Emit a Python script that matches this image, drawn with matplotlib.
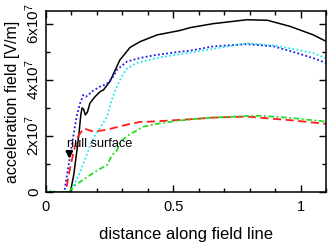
import matplotlib
matplotlib.use("Agg")
import matplotlib.pyplot as plt
from matplotlib.ticker import MultipleLocator, FixedLocator, FixedFormatter

plt.rcParams['font.family'] = ['Liberation Sans', 'DejaVu Sans']
plt.rcParams['mathtext.fontset'] = 'custom'
plt.rcParams['mathtext.rm'] = 'Liberation Sans'
plt.rcParams['mathtext.it'] = 'Liberation Sans'

SCALE = 1e7

black_x = [0, 0.08, 0.096, 0.109, 0.122, 0.13, 0.137, 0.142, 0.148, 0.155, 0.163, 0.173, 0.193,
           0.213, 0.226, 0.252, 0.29, 0.33, 0.37, 0.437, 0.528, 0.567, 0.657, 0.79,
           0.87, 0.96, 1.05, 1.1]
black_y = [0, 0, 0, 0.6, 1.5, 2.1, 2.75, 3.0, 2.95, 2.75, 2.85, 3.17, 3.4,
           3.58, 3.64, 3.95, 4.7, 5.15, 5.36, 5.6, 5.76, 5.86, 6.0, 6.14,
           6.12, 5.9, 5.6, 5.37]

blue_x = [0, 0.072, 0.089, 0.102, 0.115, 0.122, 0.134, 0.147, 0.157, 0.167, 0.18, 0.213,
          0.239, 0.265, 0.278, 0.318, 0.37, 0.436, 0.528, 0.567, 0.657, 0.79, 0.895,
          0.987, 1.05, 1.1]
blue_y = [0, 0, 0.96, 1.68, 2.39, 2.75, 3.16, 3.46, 3.4, 3.46, 3.58, 3.76,
          3.85, 4.12, 4.35, 4.65, 4.78, 4.89, 5.0, 5.04, 5.19, 5.27, 5.19,
          4.95, 4.77, 4.6]

cyan_x = [0, 0.015, 0.022, 0.03, 0.096, 0.129, 0.155, 0.174, 0.194, 0.207, 0.22, 0.24,
          0.259, 0.278, 0.3, 0.318, 0.357, 0.436, 0.567, 0.79, 0.9, 0.987, 1.05, 1.1]
cyan_y = [0, 0, 0.08, 0, 0, 0.6, 1.2, 1.68, 2.04, 2.21, 2.39, 2.69,
          3.3, 3.75, 4.15, 4.4, 4.6, 4.78, 4.97, 5.3, 5.22, 5.07, 4.95, 4.77]

red_x = [0, 0.078, 0.089, 0.109, 0.122, 0.135, 0.148, 0.168, 0.188, 0.207, 0.233, 0.273,
         0.326, 0.371, 0.41, 0.488, 0.593, 0.646, 0.79, 0.842, 0.92, 0.974, 1.1]
red_y = [0, 0, 0.6, 1.44, 1.93, 2.1, 2.27, 2.21, 2.15, 2.18, 2.21, 2.3,
         2.42, 2.5, 2.51, 2.55, 2.61, 2.65, 2.69, 2.65, 2.59, 2.55, 2.43]

green_x = [0, 0.015, 0.022, 0.03, 0.089, 0.115, 0.155, 0.194, 0.227, 0.24, 0.26, 0.28,
           0.293, 0.326, 0.383, 0.436, 0.515, 0.593, 0.646, 0.79, 0.842, 0.92, 0.974, 1.1]
green_y = [0, 0, 0.08, 0, 0, 0.25, 0.49, 0.73, 0.9, 0.96, 1.32, 1.5,
           1.8, 2.04, 2.33, 2.43, 2.54, 2.61, 2.65, 2.71, 2.72, 2.67, 2.63, 2.51]

ytick_vals = [0, 2, 4, 6]
ytick_labels = ['0', '2x10$^7$', '4x10$^7$', '6x10$^7$']
xtick_vals = [0, 0.5, 1.0]
xtick_labels = ['0', '0.5', '1']

fig = plt.figure(figsize=(3.28, 2.45), dpi=100)
ax = fig.add_axes([0.140, 0.216, 0.854, 0.739])

def s(v):
    return [q * SCALE for q in v]

ax.plot(black_x, s(black_y), color='black', lw=1.1, ls='-')
ax.plot(blue_x, s(blue_y), color='#1a1aee', lw=1.3, ls=(0, (1, 1.3)))
ax.plot(cyan_x, s(cyan_y), color='#22e8ee', lw=1.3, ls=(0, (1, 1.3)))
ax.plot(red_x, s(red_y), color='#ff1a1a', lw=1.3, ls=(0, (4.5, 2.5)))
ax.plot(green_x, s(green_y), color='#22dd22', lw=1.3, ls=(0, (3, 1.5, 1, 1.5)))

ax.annotate('', xy=(0.092, 1.08 * SCALE), xytext=(0.092, 1.5 * SCALE),
            arrowprops=dict(arrowstyle='-|>', color='black', lw=1.8, mutation_scale=9))
ax.text(0.083, 1.70 * SCALE, 'null surface', fontsize=9.2, va='center', ha='left')

ax.set_xlim(0, 1.1)
ax.set_ylim(0, 6.45 * SCALE)

ax.xaxis.set_major_locator(FixedLocator(xtick_vals))
ax.xaxis.set_major_formatter(FixedFormatter(xtick_labels))
ax.xaxis.set_minor_locator(MultipleLocator(0.1))
ax.yaxis.set_major_locator(FixedLocator(s(ytick_vals)))
ax.yaxis.set_major_formatter(FixedFormatter(ytick_labels))
ax.yaxis.set_minor_locator(MultipleLocator(1 * SCALE))

ax.tick_params(which='both', direction='in', top=True, right=True, width=1.0)
ax.tick_params(axis='x', labelsize=10.5, pad=6)
ax.tick_params(axis='y', labelsize=11, pad=3)
ax.tick_params(which='major', length=5)
ax.tick_params(which='minor', length=3)
for lab in ax.get_yticklabels():
    lab.set_rotation(90)
    lab.set_va('center')
for sp in ax.spines.values():
    sp.set_linewidth(1.1)

ax.set_xlabel('distance along field line', fontsize=12, labelpad=9)
ax.set_ylabel('acceleration field [V/m]', fontsize=11.5, labelpad=2)

fig.savefig('out.png', dpi=100)
